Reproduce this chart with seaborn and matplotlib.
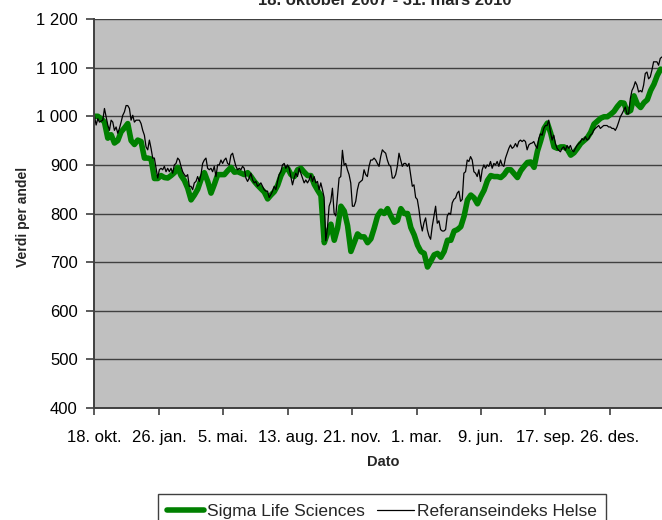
import numpy as np
import pandas as pd
import matplotlib
matplotlib.use("Agg")
import matplotlib.pyplot as plt
import seaborn as sns

# ---------------- data ----------------
start_date = "2007-10-18"
axis_end_date = "2010-03-31"
sigma_last_day = 879
referanse_last_day = 881

sigma = [
    1000, 1000, 995, 988, 955, 962, 945, 950, 968, 976, 985, 950, 942, 951, 948, 914, 914, 912,
    872, 872, 878, 874, 873, 878, 884, 895, 878, 868, 852, 828, 838, 850, 870, 884, 866,
    842, 860, 880, 880, 880, 888, 895, 885, 886, 883, 880, 884, 876, 866, 858, 851, 844, 830,
    838, 845, 858, 878, 891, 893, 880, 876, 890, 893, 885, 878,
    878, 860, 848, 837, 740, 760, 778, 745, 770, 815, 805, 775, 722, 740, 758, 752, 752, 740,
    748, 770, 795, 805, 800, 810, 795, 782, 786, 810, 800, 800, 771, 756, 735,
    722, 718, 690, 702, 715, 718, 710, 722, 745, 745, 764, 767, 773, 795, 828, 838, 832, 820,
    835, 848, 868, 878, 876, 876, 874, 880, 890, 890, 882, 874, 888, 897, 905,
    906, 895, 928, 950, 975, 986, 965, 937, 934, 937, 937, 932, 920, 925, 934, 944, 950, 956,
    967, 984, 990, 996, 999, 999, 1004, 1010, 1020, 1028, 1027, 1008, 1012, 1042, 1025, 1018,
    1028, 1034, 1053, 1066, 1084, 1097,
]

referanse = [
    1000, 982, 995, 988, 990, 992, 1016, 999, 982, 971, 992, 988, 971, 978, 965, 975, 988, 1002,
    1009, 1022, 1022, 1016, 992, 1002, 988, 992, 992, 992, 985, 971, 961, 937, 931, 951, 934,
    914, 914, 893, 873, 890, 893, 890, 897, 886, 893, 886, 893, 883, 900, 903, 914, 910, 897,
    886, 880, 876, 880, 856, 856, 849, 863, 866, 876, 866, 880, 903, 910, 914, 893,
    890, 893, 886, 897, 876, 900, 900, 910, 903, 910, 914, 903, 900, 920, 924, 910, 897, 890,
    893, 890, 897, 893, 873, 866, 873, 883, 869, 863, 866, 856, 859, 863, 856, 849, 846, 846,
    833, 839, 846, 856, 849, 866, 880, 886, 900, 903, 893, 900, 893, 876, 859, 873, 883, 876,
    893, 883, 873, 863, 869, 863, 869, 880,
    866, 876, 863, 866, 849, 863, 849, 833, 744, 770, 815, 825, 852, 801, 795, 833, 873, 876,
    930, 900, 903, 890, 880, 863, 815, 815, 825, 849, 863, 866, 869, 890, 880, 876, 897, 910,
    910, 914, 910, 903, 897, 917, 931, 927, 924, 910, 900, 897, 873, 873, 880, 897, 924, 910,
    897, 903, 903, 897, 903, 880, 856, 859, 833, 829, 808, 781,
    764, 781, 791, 767, 754, 747, 774, 795, 815, 780, 785, 767, 764, 764, 767, 795, 801, 798,
    822, 829, 832, 842, 846, 825, 829, 883, 886, 910, 907, 917, 910, 886, 883, 876, 890, 866,
    890, 900, 893, 900, 897, 907, 893, 903, 900, 907, 897, 910, 900, 897, 914, 924, 934, 941,
    934, 937, 944, 937, 948, 951, 948, 951, 948, 931, 941, 944,
    945, 948, 940, 934, 954, 964, 961, 975, 981, 981, 992, 968, 951, 961, 944, 934, 930, 927,
    934, 937, 930, 940, 934, 940, 930, 927, 934, 940, 944, 947, 954, 951, 958, 951, 954, 961,
    964, 971, 975, 978, 981, 975, 978, 981, 981, 981, 978, 978, 975, 975, 971, 978, 988, 999,
    1005, 1012, 1019, 1005, 1005, 1036, 1053, 1060, 1071, 1064, 1050, 1053, 1050, 1064, 1088,
    1091, 1077, 1081, 1095, 1112, 1112, 1112, 1105, 1119, 1122,
]

xtick_dates = ["2007-10-18", "2008-01-26", "2008-05-05", "2008-08-13", "2008-11-21",
               "2009-03-01", "2009-06-09", "2009-09-17", "2009-12-26"]
xtick_labels = ["18. okt.", "26. jan.", "5. mai.", "13. aug.", "21. nov.",
                "1. mar.", "9. jun.", "17. sep.", "26. des."]
ytick_values = [400, 500, 600, 700, 800, 900, 1000, 1100, 1200]
ytick_labels = ["400", "500", "600", "700", "800", "900", "1 000", "1 100", "1 200"]

title_text = "18. oktober 2007 - 31. mars 2010"
series_names = ["Sigma Life Sciences", "Referanseindeks Helse"]

# ---------------- build frames ----------------
t0 = pd.Timestamp(start_date)
df_sigma = pd.DataFrame({
    "Dato": t0 + pd.to_timedelta(np.linspace(0, sigma_last_day, len(sigma)), unit="D"),
    "Verdi": sigma,
})
df_ref = pd.DataFrame({
    "Dato": t0 + pd.to_timedelta(np.linspace(0, referanse_last_day, len(referanse)), unit="D"),
    "Verdi": referanse,
})

# ---------------- style ----------------
sns.set_style("ticks")
plt.rcParams["font.family"] = ["Liberation Sans", "DejaVu Sans"]
dark = "#404040"

fig = plt.figure(figsize=(6.62, 5.2), dpi=100)
ax = fig.add_axes([0.1427, 0.2154, 0.8708, 0.748])
ax.set_facecolor("#C0C0C0")

sns.lineplot(data=df_sigma, x="Dato", y="Verdi", ax=ax, color="#008000",
             linewidth=4.0, label=series_names[0])
sns.lineplot(data=df_ref, x="Dato", y="Verdi", ax=ax, color="black",
             linewidth=0.9, label=series_names[1])

ax.set_xlim(t0, pd.Timestamp(axis_end_date))
ax.set_ylim(400, 1200)
ax.set_yticks(ytick_values)
ax.set_yticklabels(ytick_labels)
ax.set_xticks(pd.to_datetime(xtick_dates))
ax.set_xticklabels(xtick_labels)

ax.grid(axis="y", color=dark, linewidth=1.0)
ax.grid(axis="x", visible=False)
ax.set_axisbelow(True)
for s in ["top", "right"]:
    ax.spines[s].set_visible(False)
for s in ["left", "bottom"]:
    ax.spines[s].set_color(dark)
    ax.spines[s].set_linewidth(1.4)

ax.tick_params(axis="y", direction="out", length=6, width=1.2, color=dark,
               labelsize=12, pad=6, labelcolor="black")
ax.tick_params(axis="x", direction="out", length=5, width=1.2, color=dark,
               labelsize=12, pad=11, labelcolor="black")

ax.set_xlabel("Dato", fontsize=10.5, fontweight="bold")
ax.set_ylabel("Verdi per andel", fontsize=10, fontweight="bold")
ax.xaxis.set_label_coords(0.5004, -0.121)
ax.yaxis.set_label_coords(-0.112, 0.49)

fig.text(385 / 662, 1 - 5 / 520, title_text, ha="center", va="baseline",
         fontsize=12, fontweight="bold")

handles, labels = ax.get_legend_handles_labels()
ax.get_legend().remove()
leg = fig.legend(handles, labels, loc="upper center",
                 bbox_to_anchor=(382 / 662, 1 - 494 / 520), ncol=2,
                 frameon=True, fancybox=False, edgecolor=dark, framealpha=1,
                 fontsize=12.5, handlelength=2.1, handletextpad=0.2,
                 columnspacing=0.7, borderpad=0.55, borderaxespad=0)
leg.get_frame().set_linewidth(1.0)

fig.savefig("out.png", dpi=100)
